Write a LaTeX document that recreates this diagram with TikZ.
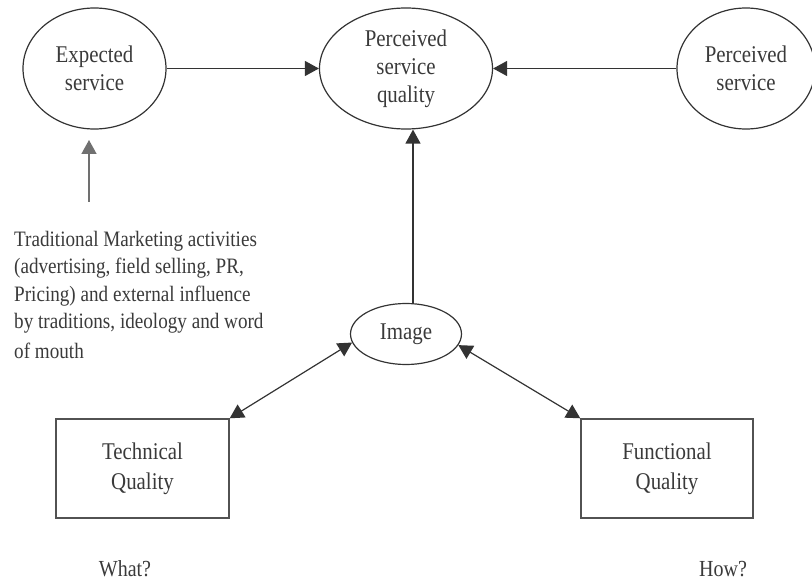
\documentclass[tikz,border=0pt]{standalone}
\usepackage{fontspec}
\setmainfont[FakeStretch=0.87]{Liberation Serif}
\usetikzlibrary{shapes.geometric,arrows.meta}
\definecolor{ink}{HTML}{3A3A3A}
\definecolor{edge}{HTML}{333333}
\begin{document}
\begin{tikzpicture}[x=1pt,y=-1pt,
  ell/.style={ellipse,draw=edge,line width=1.2pt,inner sep=0pt,text=ink,align=center,
    font=\fontsize{24}{28}\selectfont},
  qbox/.style={rectangle,draw=edge!85,line width=1.4pt,inner sep=0pt,text=ink,align=center,
    font=\fontsize{24}{30}\selectfont},
  lbl/.style={text=ink,inner sep=0pt,font=\fontsize{23}{28}\selectfont},
  arr/.style={draw=edge,line width=1.2pt,-{Triangle[length=14pt,width=15pt]}},
  darr/.style={draw=edge,line width=1.2pt,{Triangle[length=14pt,width=15pt]}-{Triangle[length=14pt,width=15pt]}},
]
\useasboundingbox (0,0) rectangle (812,583);
\node[ell,minimum width=143pt,minimum height=121pt] (es) at (94.5,68.5) {Expected\\service};
\node[ell,minimum width=173pt,minimum height=121pt] (psq) at (406,68.5) {Perceived\\service\\quality};
\node[ell,minimum width=138pt,minimum height=121pt] (ps) at (746,68.5) {Perceived\\service};
\node[ell,minimum width=111pt,minimum height=61pt] (img) at (406,334) {Image};
\node[qbox,minimum width=173pt,minimum height=99pt] (tq) at (142.5,468.5) {Technical\\Quality};
\node[qbox,minimum width=172pt,minimum height=99pt] (fq) at (667,468.5) {Functional\\Quality};
\node[lbl] (what) at (125,569) {What?};
\node[lbl] (how) at (723,569) {How?};
\node[text=ink,inner sep=0pt,anchor=north west,align=left,
  font=\fontsize{22}{27.4}\selectfont] (trad) at (14,231)
  {Traditional Marketing activities\\(advertising, field selling, PR,\\Pricing) and external influence\\by traditions, ideology and word\\[2.5pt]of mouth};
\coordinate (mtail) at (89,202);
\coordinate (mtip) at (89,140);
\draw[arr] (es) -- (psq);
\draw[arr] (ps) -- (psq);
\draw[arr,draw=edge!70,line width=1.6pt] (mtail) -- (mtip);
\draw[arr] ([xshift=7pt]img.north) -- ([xshift=7pt]psq.south);
\draw[darr] (img.189.8) -- (tq.north east);
\draw[darr] (img.348) -- (fq.north west);
\end{tikzpicture}
\end{document}
